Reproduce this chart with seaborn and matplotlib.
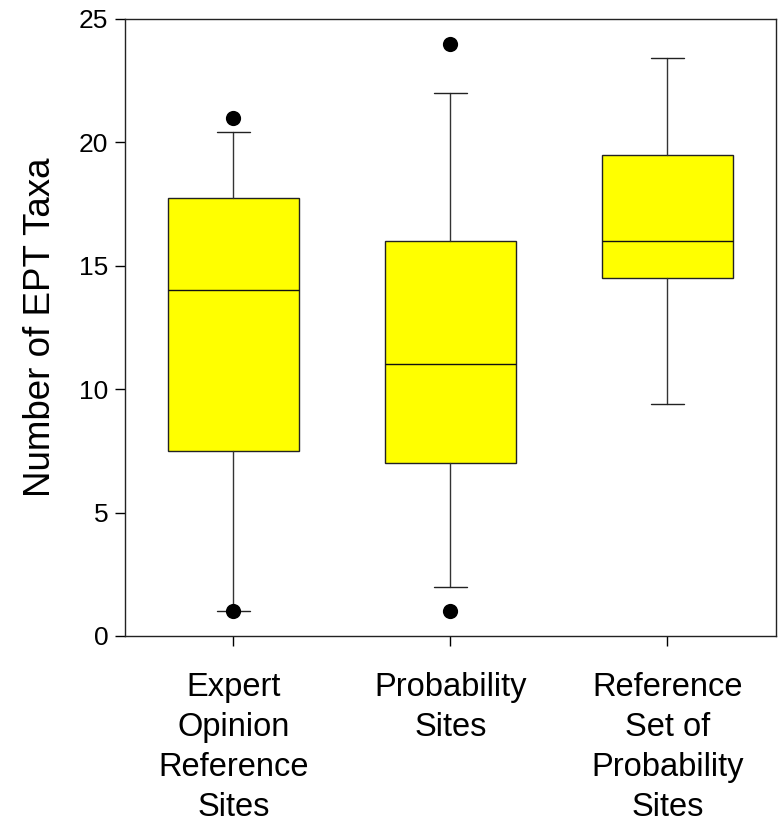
import matplotlib
matplotlib.use("Agg")
import matplotlib.pyplot as plt
import seaborn as sns
import pandas as pd

categories = ["Expert\nOpinion\nReference\nSites", "Probability\nSites", "Reference\nSet of\nProbability\nSites"]
q1 = [7.5, 7.0, 14.5]
medians = [14.0, 11.0, 16.0]
q3 = [17.75, 16.0, 19.5]
whisker_low = [1.0, 2.0, 9.4]
whisker_high = [20.4, 22.0, 23.4]
outliers = [[21.0, 1.0], [24.0, 1.0], []]

sns.set_style("ticks")
plt.rcParams['font.family'] = ['Liberation Sans', 'DejaVu Sans']
plt.rcParams['text.color'] = 'black'
plt.rcParams['axes.labelcolor'] = 'black'
plt.rcParams['xtick.color'] = 'black'
plt.rcParams['ytick.color'] = 'black'

fig = plt.figure(figsize=(7.83, 8.24), dpi=100)
ax = fig.add_axes([0.1596, 0.2282, 0.8314, 0.7488])

stats = []
for i in range(len(categories)):
    stats.append(dict(med=medians[i], q1=q1[i], q3=q3[i],
                      whislo=whisker_low[i], whishi=whisker_high[i],
                      fliers=[], label=categories[i]))

ax.bxp(stats, positions=range(len(categories)), widths=0.6, patch_artist=True,
       showfliers=False,
       boxprops=dict(facecolor="#FFFF00", edgecolor="#222222", linewidth=1.0),
       medianprops=dict(color="#111111", linewidth=1.0),
       whiskerprops=dict(color="#333333", linewidth=1.0),
       capprops=dict(color="#222222", linewidth=1.0),
       capwidths=0.15)

out_x, out_y = [], []
for i, vals in enumerate(outliers):
    for v in vals:
        out_x.append(i)
        out_y.append(v)
df_out = pd.DataFrame({"x": out_x, "y": out_y})
sns.scatterplot(data=df_out, x="x", y="y", ax=ax, color="black", s=120,
                edgecolor="black", linewidth=0, zorder=5)

ax.set_xlim(-0.5, 2.5)
ax.set_ylim(0, 25)
ax.set_yticks([0, 5, 10, 15, 20, 25])
ax.set_xticks(range(len(categories)))
ax.set_xticklabels(categories, fontsize=23.5, linespacing=1.38)
ax.tick_params(axis='y', labelsize=19, length=7, width=1, direction='out', pad=5)
ax.tick_params(axis='x', length=7, width=1, direction='out', pad=19)
ax.set_xlabel("")
ax.set_ylabel("Number of EPT Taxa", fontsize=26.5)
ax.yaxis.set_label_coords(-0.103, 0.5)
for s in ax.spines.values():
    s.set_visible(True)
    s.set_linewidth(1.0)
    s.set_color("#222222")

fig.savefig("out.png", dpi=100)
